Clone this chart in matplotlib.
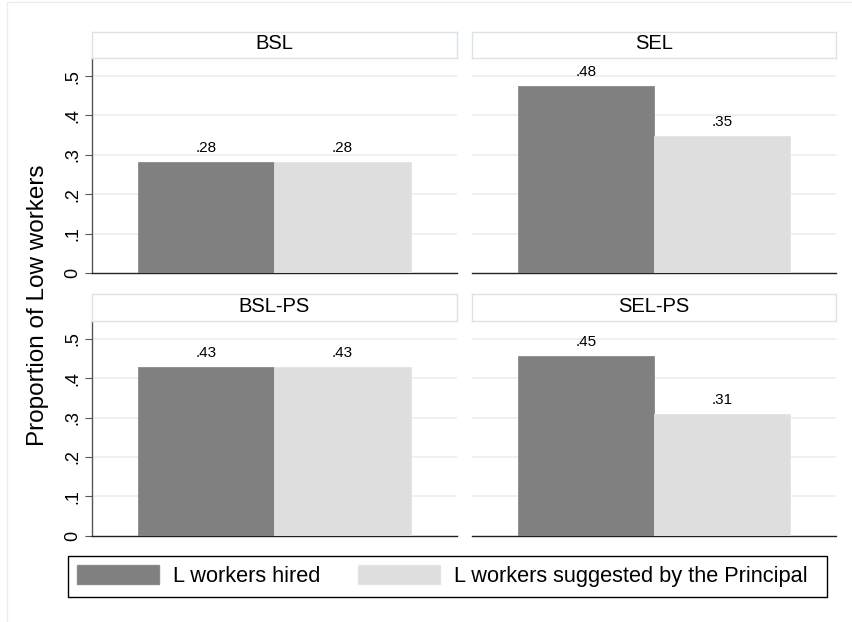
import matplotlib
matplotlib.use("Agg")
import matplotlib.pyplot as plt
from matplotlib.patches import Patch, Rectangle

plt.rcParams['font.family'] = ['Liberation Sans', 'DejaVu Sans']

panels = ["BSL", "SEL", "BSL-PS", "SEL-PS"]
hired = [0.283, 0.476, 0.428, 0.456]
suggested = [0.283, 0.347, 0.428, 0.308]
value_labels_hired = [".28", ".48", ".43", ".45"]
value_labels_sugg = [".28", ".35", ".43", ".31"]
series_names = ["L workers hired", "L workers suggested by the Principal"]
yticks = [0, 0.1, 0.2, 0.3, 0.4, 0.5]
ytick_labels = ["0", ".1", ".2", ".3", ".4", ".5"]

dark = "#808080"
light = "#dedede"
grid_col = "#e8f0f2"
strip_edge = "#d8e4ea"

W, H = 853, 622
fig = plt.figure(figsize=(W / 100, H / 100), dpi=100)

# outer light frame (stata graph region)
fig.patches.append(Rectangle((7 / W, -0.1), 1.2, 1 - 2 / H + 0.1, transform=fig.transFigure,
                             fill=False, edgecolor="#e6eef0", lw=1))

# panel boxes in pixels: left, top of plot, right, bottom
lefts = [92, 471.7, 92, 471.7]
rights = [456.7, 836, 456.7, 836]
tops = [58, 58, 320.7, 320.7]
bottoms = [273, 273, 535.7, 535.7]
strip_h = 26.5

for i, name in enumerate(panels):
    l, r, t, b = lefts[i], rights[i], tops[i], bottoms[i]
    ax = fig.add_axes([l / W, 1 - b / H, (r - l) / W, (b - t) / H])
    ax.bar([0], [hired[i]], width=1, color=dark, edgecolor="#8a8a8a", lw=0.6, zorder=3)
    ax.bar([1], [suggested[i]], width=1, color=light, edgecolor="#e4e4e4", lw=0.6, zorder=3)
    ax.annotate(value_labels_hired[i], (0, hired[i]), xytext=(0, 5), textcoords="offset points",
                ha="center", va="bottom", fontsize=11)
    ax.annotate(value_labels_sugg[i], (1, suggested[i]), xytext=(0, 5), textcoords="offset points",
                ha="center", va="bottom", fontsize=11)
    ax.set_xlim(-0.838, 1.838)
    ax.set_ylim(0, 0.546)
    ax.set_yticks(yticks)
    for y in yticks[1:]:
        ax.axhline(y, color=grid_col, lw=1.2, zorder=1)
    ax.set_xticks([])
    for s in ["top", "right"]:
        ax.spines[s].set_visible(False)
    ax.spines["bottom"].set_color("#222222")
    ax.spines["bottom"].set_linewidth(1.0)
    if i % 2 == 0:
        ax.spines["left"].set_color("#555555")
        ax.spines["left"].set_linewidth(1.0)
        ax.set_yticklabels(ytick_labels, rotation=90, va="center", fontsize=13)
        ax.tick_params(axis="y", length=5, width=0.8, color="#555555", pad=3)
    else:
        ax.spines["left"].set_visible(False)
        ax.tick_params(axis="y", length=0, labelleft=False)

    # strip title
    sax = fig.add_axes([l / W, 1 - t / H, (r - l) / W, strip_h / H])
    sax.set_xticks([])
    sax.set_yticks([])
    for s in sax.spines.values():
        s.set_color(strip_edge)
        s.set_linewidth(1.0)
    sax.text(0.5, 0.55, name, ha="center", va="center", fontsize=14.5, transform=sax.transAxes)

fig.text(38 / W, 1 - 305 / H, "Proportion of Low workers", rotation=90, ha="center", va="center",
         fontsize=17.5)

# legend box drawn separately (stata leaves extra room on the right)
fig.patches.append(Rectangle((68 / W, 1 - 596.7 / H), (827 - 68) / W, 41 / H,
                             transform=fig.transFigure, fill=False, edgecolor="black", lw=1.0))
handles = [Patch(facecolor=dark, edgecolor="#8a8a8a"), Patch(facecolor=light, edgecolor="#e4e4e4")]
leg = fig.legend(handles, series_names, ncol=2, loc="center left",
                 bbox_to_anchor=(68 / W, 1 - 576 / H), fontsize=15.7, frameon=False,
                 handlelength=3.76, handleheight=1.0, handletextpad=0.64,
                 columnspacing=1.74, borderpad=0.4, borderaxespad=0)

fig.savefig("out.png", dpi=100)
